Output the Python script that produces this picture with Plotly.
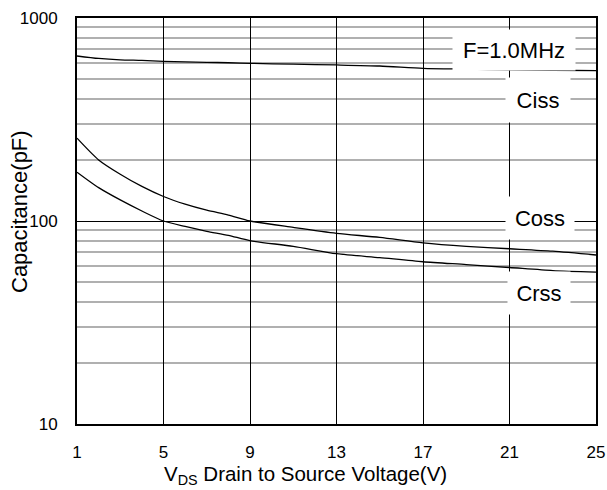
import plotly.graph_objects as go

vds = [1, 2, 3, 4, 5, 6, 7, 8, 9, 11, 13, 15, 17, 19, 21, 23, 25]
ciss = [650, 632, 622, 618, 612, 608, 605, 602, 598, 592, 587, 580, 565, 560, 555, 553, 551]
coss = [256, 200, 170, 148, 132, 121, 113, 107, 100, 93, 87, 83, 78, 75, 73, 71, 68]
crss = [174, 146, 127, 112, 100, 94, 89, 85, 80, 75, 69, 66, 63, 61, 59, 57, 56]

x_ticks = [1, 5, 9, 13, 17, 21, 25]
y_ticks = [10, 100, 1000]
y_minor = [20, 30, 40, 50, 60, 70, 80, 90, 200, 300, 400, 500, 600, 700, 800, 900]

# (text, pixel-x centre, pixel-y centre, box width, box height)
labels = [("F=1.0MHz", 514, 50, 120, 38), ("Ciss", 538, 100, 62, 42),
          ("Coss", 540, 218, 66, 40), ("Crss", 539, 293, 60, 40)]

font = "Liberation Sans, Arial, sans-serif"
fig = go.Figure()
for y in (ciss, coss, crss):
    fig.add_trace(go.Scatter(x=vds, y=y, mode="lines",
                             line=dict(color="black", width=1.3, shape="spline", smoothing=0.7),
                             showlegend=False, hoverinfo="skip"))

plot_l, plot_r, plot_t, plot_b = 77, 596, 18, 424
pw, ph = plot_r - plot_l, plot_b - plot_t
anns = []
for (text, px, py, w, h) in labels:
    anns.append(dict(x=(px - plot_l) / pw, xref="paper",
                     y=1 - (py - plot_t) / ph, yref="paper",
                     text=text, showarrow=False,
                     font=dict(family=font, size=22, color="black"),
                     bgcolor="white", width=w, height=h, xanchor="center", yanchor="middle"))
# axis titles
anns.append(dict(x=(19 - plot_l) / pw, xref="paper", y=1 - (212 - plot_t) / ph, yref="paper",
                 text="Capacitance(pF)", textangle=-90, showarrow=False,
                 font=dict(family=font, size=22, color="black"),
                 xanchor="center", yanchor="middle"))
anns.append(dict(x=(162 - plot_l) / pw, xref="paper", y=1 - (475 - plot_t) / ph, yref="paper",
                 text="V<sub>DS</sub> Drain to Source Voltage(V)", showarrow=False,
                 font=dict(family=font, size=20.5, color="black"),
                 xanchor="left", yanchor="middle"))
fig.layout.annotations = anns

fig.update_layout(
    width=607, height=490,
    margin=dict(l=plot_l, r=607 - plot_r, t=plot_t, b=490 - plot_b),
    paper_bgcolor="white", plot_bgcolor="white",
    font=dict(family=font, color="black"),
    xaxis=dict(range=[1, 25], tickvals=x_ticks, ticktext=[str(v) for v in x_ticks],
               showgrid=True, gridcolor="black", gridwidth=1.3,
               showline=True, linecolor="black", linewidth=2, mirror=True,
               ticks="", tickfont=dict(size=17), ticklabelstandoff=12,
               zeroline=False, automargin=False),
    yaxis=dict(type="log", range=[1, 3], tickvals=y_ticks, ticktext=[str(v) for v in y_ticks],
               showgrid=True, gridcolor="black", gridwidth=1.3,
               showline=True, linecolor="black", linewidth=2, mirror=True,
               ticks="", tickfont=dict(size=17), ticklabelstandoff=14,
               minor=dict(tickvals=y_minor, showgrid=True, gridcolor="#b0b0b0", gridwidth=1.5, ticks=""),
               zeroline=False, automargin=False),
)

fig.write_html("out.html", config={"displayModeBar": False},
               post_script="document.body.style.margin='0';")
